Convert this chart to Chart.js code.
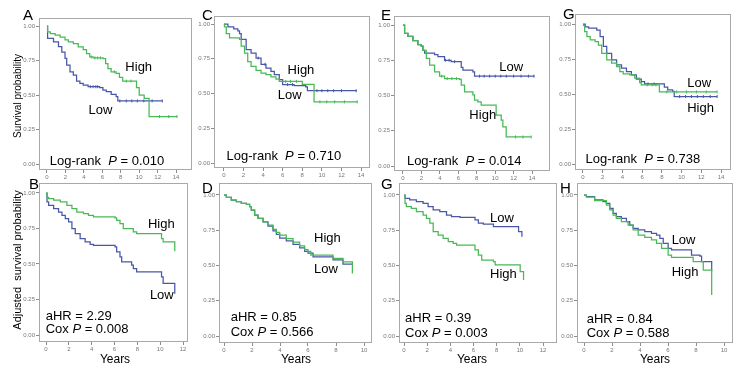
<!DOCTYPE html>
<html>
<head>
<meta charset="utf-8">
<script src="https://cdn.jsdelivr.net/npm/chart.js@4.4.1/dist/chart.umd.min.js"></script>
<style>
  body { margin: 0; background: #fff; }
  #fig { position: relative; width: 739px; height: 372px; overflow: hidden; font-family: "Liberation Sans", Arial, sans-serif; color: #000; }
  #fig canvas { position: absolute; }
  .lbl { position: absolute; font-size: 15px; line-height: 15px; }
  .ytitle { position: absolute; font-size: 11px; line-height: 11px; white-space: pre; transform: translate(-50%, -50%) rotate(-90deg); }
  .years { position: absolute; font-size: 12px; line-height: 12px; transform: translateX(-50%); }
</style>
</head>
<body>
<div id="fig"></div>
<script>
// tick values
const yTicks = [0, 0.25, 0.5, 0.75, 1];
const xTicks14 = [0, 2, 4, 6, 8, 10, 12, 14];
const xTicks12 = [0, 2, 4, 6, 8, 10, 12];
const xTicks10 = [0, 2, 4, 6, 8, 10];

// KM curves: [years, survival] at each drop, last point = end of follow-up
// A - unadjusted
const aHigh = [[0,1],[0.07,0.957],[0.36,0.945],[0.89,0.933],[1.43,0.92],[1.96,0.9],[2.32,0.885],[2.86,0.873],[3.39,0.849],[3.93,0.829],[4.29,0.8],[4.64,0.776],[5.0,0.769],[6.07,0.764],[6.36,0.728],[6.61,0.692],[6.96,0.668],[7.5,0.656],[7.86,0.627],[8.21,0.601],[9.71,0.553],[10.0,0.5],[10.54,0.476],[11.07,0.344],[14.1,0.344]];
const aLow = [[0,1],[0.07,0.91],[0.71,0.885],[1.25,0.85],[1.61,0.81],[1.96,0.765],[2.14,0.716],[2.5,0.668],[2.86,0.644],[3.21,0.6],[3.57,0.584],[3.93,0.572],[4.46,0.56],[5.71,0.553],[6.07,0.536],[6.43,0.524],[6.96,0.505],[7.5,0.488],[7.68,0.457],[12.5,0.457]];
const aHighCens = [4.8, 5.2, 5.5, 5.8, 7.3, 8.6, 9.1, 12.2, 13.2, 14.1];
const aLowCens = [4.7, 5.0, 5.3, 5.5, 7.9, 8.6, 9.2, 9.8, 10.5, 11.4, 12.5];
// C
const cHigh = [[0,1],[0.05,0.98],[0.24,0.93],[0.57,0.9],[1.59,0.89],[1.76,0.84],[2.1,0.79],[2.43,0.73],[2.77,0.695],[3.28,0.667],[3.79,0.647],[4.29,0.635],[4.8,0.62],[5.31,0.604],[5.65,0.587],[8.0,0.565],[9.2,0.44],[13.66,0.44]];
const cLow = [[0,1],[0.41,0.98],[1.0,0.965],[1.42,0.95],[1.59,0.93],[1.76,0.89],[2.27,0.815],[2.77,0.79],[3.28,0.755],[3.79,0.71],[4.29,0.683],[4.8,0.66],[5.14,0.635],[5.65,0.6],[5.99,0.564],[7.17,0.556],[8.35,0.547],[8.52,0.52],[13.53,0.52]];
const cHighCens = [6.3, 6.8, 7.4, 9.8, 10.5, 11.3, 12.3, 13.6];
const cLowCens = [3.5, 4.2, 6.5, 7.0, 9.5, 10.0, 10.6, 11.2, 12.0, 13.5];
// E
const eHigh = [[0,1],[0.18,0.94],[0.54,0.92],[1.08,0.89],[1.62,0.86],[1.98,0.85],[2.17,0.82],[2.53,0.763],[2.89,0.716],[3.43,0.668],[3.97,0.637],[4.51,0.62],[6.13,0.614],[6.32,0.573],[6.68,0.526],[7.58,0.505],[7.76,0.467],[8.12,0.455],[8.48,0.431],[10.1,0.36],[10.65,0.325],[10.83,0.277],[11.19,0.206],[13.9,0.206]];
const eLow = [[0,1],[0.18,0.94],[0.54,0.92],[1.08,0.89],[1.62,0.86],[1.98,0.85],[2.17,0.82],[2.35,0.8],[3.43,0.79],[3.79,0.775],[4.51,0.75],[5.23,0.74],[6.32,0.7],[6.5,0.68],[7.58,0.668],[7.76,0.637],[14.25,0.637]];
const eHighCens = [4.2, 4.8, 5.3, 5.8, 12.2, 13.0, 13.9];
const eLowCens = [4.6, 5.0, 5.6, 8.3, 8.8, 9.4, 10.0, 10.6, 11.2, 12.0, 12.8, 13.6, 14.2];
// G (top)
const gHigh = [[0,0.99],[0.17,0.945],[0.4,0.91],[0.74,0.886],[1.24,0.874],[1.57,0.85],[1.9,0.79],[2.41,0.743],[2.91,0.72],[3.41,0.696],[3.74,0.66],[4.08,0.644],[4.74,0.637],[5.25,0.613],[5.75,0.582],[5.91,0.565],[7.75,0.515],[13.6,0.515]];
const gLow = [[0,1],[0.23,0.98],[0.57,0.97],[1.4,0.957],[1.74,0.91],[2.07,0.84],[2.41,0.79],[2.91,0.743],[3.41,0.708],[3.91,0.684],[4.41,0.66],[4.91,0.637],[5.41,0.606],[5.91,0.589],[6.25,0.572],[8.25,0.549],[8.59,0.53],[9.09,0.518],[9.25,0.482],[13.6,0.482]];
const gHighCens = [6.5, 7.0, 7.4, 8.5, 9.5, 10.5, 11.5, 12.5, 13.6];
const gLowCens = [6.6, 7.2, 9.8, 10.4, 11.0, 11.6, 12.2, 12.9, 13.6];
// B - adjusted
const bHigh = [[0,1],[0.09,0.97],[0.23,0.96],[0.67,0.95],[1.25,0.937],[1.83,0.913],[2.27,0.89],[2.7,0.866],[3.28,0.855],[3.72,0.843],[4.16,0.831],[6.05,0.824],[6.19,0.808],[6.48,0.785],[6.77,0.75],[7.65,0.726],[7.94,0.714],[10.12,0.679],[10.26,0.656],[11.28,0.59]];
const bLow = [[0,1],[0.09,0.937],[0.23,0.913],[0.67,0.89],[1.1,0.866],[1.4,0.843],[1.69,0.82],[1.98,0.796],[2.27,0.75],[2.56,0.714],[2.99,0.679],[3.43,0.656],[3.87,0.639],[4.16,0.632],[6.05,0.62],[6.19,0.585],[6.48,0.55],[6.63,0.515],[7.5,0.492],[7.65,0.468],[7.94,0.445],[10.12,0.41],[10.26,0.363],[11.28,0.29]];
// D
const dHigh = [[0,1],[0.17,0.983],[0.52,0.964],[0.88,0.953],[1.24,0.941],[1.6,0.934],[1.83,0.917],[1.95,0.893],[2.19,0.858],[2.43,0.834],[2.79,0.81],[3.14,0.787],[3.5,0.757],[3.74,0.735],[3.98,0.715],[4.45,0.69],[4.93,0.665],[5.4,0.64],[5.76,0.612],[6.0,0.6],[6.2,0.573],[7.79,0.55],[8.5,0.526],[9.17,0.443]];
const dLow = [[0,1],[0.17,0.983],[0.52,0.964],[0.88,0.953],[1.24,0.941],[1.6,0.934],[1.83,0.917],[1.95,0.893],[2.19,0.858],[2.43,0.834],[2.79,0.81],[3.14,0.78],[3.5,0.745],[3.74,0.72],[3.98,0.695],[4.45,0.675],[4.93,0.65],[5.4,0.625],[5.76,0.6],[6.0,0.587],[6.36,0.562],[7.79,0.54],[8.5,0.51],[9.17,0.51]];
// G (bottom)
const g2High = [[0,1],[0.09,0.94],[0.2,0.917],[0.64,0.905],[1.07,0.882],[1.65,0.858],[1.94,0.835],[2.23,0.8],[2.52,0.74],[2.95,0.716],[3.38,0.693],[3.82,0.669],[4.25,0.657],[4.54,0.645],[6.13,0.61],[6.42,0.574],[6.71,0.539],[7.72,0.527],[7.87,0.504],[10.03,0.456],[10.32,0.397]];
const g2Low = [[0,1],[0.09,0.976],[0.49,0.965],[1.07,0.953],[1.65,0.941],[2.08,0.917],[2.52,0.894],[3.09,0.882],[3.67,0.858],[4.1,0.846],[4.83,0.842],[6.13,0.823],[6.42,0.8],[6.85,0.794],[7.72,0.775],[9.89,0.74],[10.18,0.704]];
// H
const hHigh = [[0,1],[0.17,0.985],[0.76,0.96],[1.6,0.929],[1.84,0.894],[2.08,0.858],[2.31,0.835],[2.67,0.811],[3.15,0.787],[3.51,0.752],[3.87,0.716],[4.34,0.7],[4.82,0.681],[5.18,0.657],[5.54,0.622],[6.01,0.574],[6.25,0.558],[7.8,0.527],[8.52,0.468],[9.12,0.29]];
const hLow = [[0,1],[0.17,0.988],[0.76,0.965],[1.36,0.953],[1.6,0.941],[1.84,0.905],[2.08,0.87],[2.31,0.846],[2.67,0.835],[3.03,0.811],[3.27,0.787],[3.51,0.764],[3.87,0.752],[4.34,0.74],[4.82,0.728],[5.18,0.716],[5.42,0.693],[5.66,0.657],[6.01,0.622],[6.25,0.61],[7.68,0.574],[8.28,0.567],[8.4,0.527],[9.12,0.46]];

const GREEN = '#47b955', BLUE = '#4857a8', FRAME = '#a9a9a9', TICK = '#8c8c8c', TICKTXT = '#777';
const FONT = '"Liberation Sans", Arial, sans-serif';
const PAD = { l: 26, t: 6, r: 4, b: 14 };

// text notes: [string, italic]
const logRank = p => [['Log-rank  '], ['P', 1], [' = ' + p]];
const cox = p => [['Cox '], ['P', 1], [' = ' + p]];

// box = frame [left, top, right, bottom]; xa = [px of 0, last tick, px of last tick]; ya = [px of 1.00, px of 0.00]
const panels = [
  { letter: 'A', lx: 23, ly: 7, box: [39, 18, 193, 170], xa: [47, 14, 177], ya: [26, 164], xt: xTicks14,
    high: aHigh, low: aLow, highC: aHighCens, lowC: aLowCens,
    notes: [{ t: 8.5, s: 0.70, txt: [['High']] }, { t: 4.5, s: 0.39, txt: [['Low']] }, { t: 0.3, s: 0.02, txt: logRank('0.010') }] },
  { letter: 'C', lx: 202, ly: 7, box: [214, 16, 371, 168], xa: [224, 14, 362], ya: [24, 163], xt: xTicks14,
    high: cHigh, low: cLow, highC: cHighCens, lowC: cLowCens,
    notes: [{ t: 6.5, s: 0.668, txt: [['High']] }, { t: 5.5, s: 0.484, txt: [['Low']] }, { t: 0.27, s: 0.048, txt: logRank('0.710') }] },
  { letter: 'E', lx: 381, ly: 7, box: [394, 16, 551, 171], xa: [403, 14, 533], ya: [25, 166], xt: xTicks14,
    high: eHigh, low: eLow, highC: eHighCens, lowC: eLowCens,
    notes: [{ t: 10.44, s: 0.70, txt: [['Low']] }, { t: 7.2, s: 0.36, txt: [['High']] }, { t: 0.43, s: 0.03, txt: logRank('0.014') }] },
  { letter: 'G', lx: 563, ly: 6, box: [575, 14, 732, 170], xa: [583, 14, 722], ya: [24, 164], xt: xTicks14,
    high: gHigh, low: gLow, highC: gHighCens, lowC: gLowCens,
    notes: [{ t: 10.57, s: 0.579, txt: [['Low']] }, { t: 10.57, s: 0.396, txt: [['High']] }, { t: 0.27, s: 0.03, txt: logRank('0.738') }] },
  { letter: 'B', lx: 29, ly: 176, box: [39, 183, 188, 342], xa: [46, 12, 183], ya: [193, 335], xt: xTicks12, years: 115,
    high: bHigh, low: bLow, highC: [], lowC: [],
    notes: [{ t: 8.93, s: 0.778, txt: [['High']] }, { t: 9.1, s: 0.278, txt: [['Low']] }, { t: -0.03, s: 0.134, txt: [['aHR = 2.29']] }, { t: -0.03, s: 0.039, txt: cox('0.008') }] },
  { letter: 'D', lx: 202, ly: 180, box: [219, 183, 372, 343], xa: [224, 10, 364], ya: [195, 336], xt: xTicks10, years: 296,
    high: dHigh, low: dLow, highC: [], lowC: [],
    notes: [{ t: 6.43, s: 0.695, txt: [['High']] }, { t: 6.43, s: 0.475, txt: [['Low']] }, { t: 0.48, s: 0.131, txt: [['aHR = 0.85']] }, { t: 0.48, s: 0.025, txt: cox('0.566') }] },
  { letter: 'G', lx: 381, ly: 176, box: [399, 183, 557, 343], xa: [404, 12, 543], ya: [195, 336], xt: xTicks12, years: 472,
    high: g2High, low: g2Low, highC: [], lowC: [],
    notes: [{ t: 7.43, s: 0.837, txt: [['Low']] }, { t: 7.43, s: 0.44, txt: [['High']] }, { t: 0.09, s: 0.125, txt: [['aHR = 0.39']] }, { t: 0.09, s: 0.019, txt: cox('0.003') }] },
  { letter: 'H', lx: 560, ly: 180, box: [577, 183, 733, 343], xa: [584, 10, 724], ya: [195, 336], xt: xTicks10, years: 655,
    high: hHigh, low: hLow, highC: [], lowC: [],
    notes: [{ t: 6.26, s: 0.68, txt: [['Low']] }, { t: 6.26, s: 0.454, txt: [['High']] }, { t: 0.19, s: 0.12, txt: [['aHR = 0.84']] }, { t: 0.19, s: 0.016, txt: cox('0.588') }] }
];

const fig = document.getElementById('fig');
function addText(cls, txt, x, y) {
  const d = document.createElement('div');
  d.className = cls; d.textContent = txt;
  d.style.left = x + 'px'; d.style.top = y + 'px';
  fig.appendChild(d);
  return d;
}

function stepAt(curve, t) {
  let s = curve[0][1];
  for (const [ti, si] of curve) if (ti <= t) s = si;
  return s;
}

function panelPlugin(notes) {
  return {
    id: 'panel',
    beforeDatasetsDraw(chart) {
      const a = chart.chartArea, ctx = chart.ctx;
      ctx.save();
      ctx.strokeStyle = FRAME; ctx.lineWidth = 1;
      ctx.strokeRect(Math.round(a.left) + 0.5, Math.round(a.top) + 0.5, Math.round(a.right - a.left) - 1, Math.round(a.bottom - a.top) - 1);
      ctx.restore();
    },
    afterDatasetsDraw(chart) {
      const ctx = chart.ctx, sx = chart.scales.x, sy = chart.scales.y;
      ctx.save();
      ctx.fillStyle = '#000'; ctx.textBaseline = 'middle';
      for (const n of notes) {
        let x = sx.getPixelForValue(n.t);
        const y = sy.getPixelForValue(n.s);
        for (const [str, it] of n.txt) {
          ctx.font = (it ? 'italic ' : '') + '13px ' + FONT;
          ctx.fillText(str, x, y);
          x += ctx.measureText(str).width;
        }
      }
      ctx.restore();
    }
  };
}

const kmLine = (curve, color, label) => ({
  label, data: curve.map(([x, y]) => ({ x, y })),
  borderColor: color, borderWidth: 1.25, stepped: true, pointRadius: 0, fill: false
});
const censor = (curve, times, color) => ({
  data: times.map(t => ({ x: t, y: stepAt(curve, t) })),
  showLine: false, pointStyle: 'line', pointRotation: 90, pointRadius: 1.5,
  pointBorderColor: color, pointBorderWidth: 1, borderColor: color
});

panels.forEach(p => {
  const [L, T, R, B] = p.box;
  const kx = (p.xa[2] - p.xa[0]) / p.xa[1];
  const ky = p.ya[1] - p.ya[0];
  const xmin = -(p.xa[0] - L) / kx, xmax = p.xa[1] + (R - p.xa[2]) / kx;
  const ymin = -(B - p.ya[1]) / ky, ymax = 1 + (p.ya[0] - T) / ky;

  const cv = document.createElement('canvas');
  cv.width = R - L + PAD.l + PAD.r;
  cv.height = B - T + PAD.t + PAD.b;
  cv.style.left = (L - PAD.l) + 'px';
  cv.style.top = (T - PAD.t) + 'px';
  fig.appendChild(cv);

  addText('lbl', p.letter, p.lx, p.ly);
  if (p.years) addText('years', 'Years', p.years, 353);

  new Chart(cv, {
    type: 'line',
    data: {
      datasets: [
        kmLine(p.high, GREEN, 'High'),
        kmLine(p.low, BLUE, 'Low'),
        censor(p.high, p.highC, GREEN),
        censor(p.low, p.lowC, BLUE)
      ]
    },
    options: {
      responsive: false, animation: false, devicePixelRatio: 1,
      layout: { padding: { left: 0, top: PAD.t, right: PAD.r, bottom: 0 } },
      plugins: { legend: { display: false }, tooltip: { enabled: false } },
      scales: {
        x: {
          type: 'linear', min: xmin, max: xmax,
          afterBuildTicks: s => { s.ticks = p.xt.map(v => ({ value: v })); },
          afterFit: s => { s.height = PAD.b; },
          grid: { drawOnChartArea: false, drawTicks: true, tickLength: 3, color: TICK },
          border: { display: false },
          ticks: { autoSkip: false, maxRotation: 0, padding: 1, color: TICKTXT, font: { size: 6, family: FONT }, callback: v => v }
        },
        y: {
          type: 'linear', min: ymin, max: ymax,
          afterBuildTicks: s => { s.ticks = yTicks.map(v => ({ value: v })); },
          afterFit: s => { s.width = PAD.l; },
          grid: { drawOnChartArea: false, drawTicks: true, tickLength: 3, color: TICK },
          border: { display: false },
          ticks: { autoSkip: false, padding: 1, color: TICKTXT, font: { size: 6, family: FONT }, callback: v => v.toFixed(2) }
        }
      }
    },
    plugins: [panelPlugin(p.notes)]
  });
});

// shared y-axis titles
const t1 = addText('ytitle', 'Survival probability', 17, 96);
t1.style.fontSize = '10px';
addText('ytitle', 'Adjusted  survival probability', 17, 260);
</script>
</body>
</html>
